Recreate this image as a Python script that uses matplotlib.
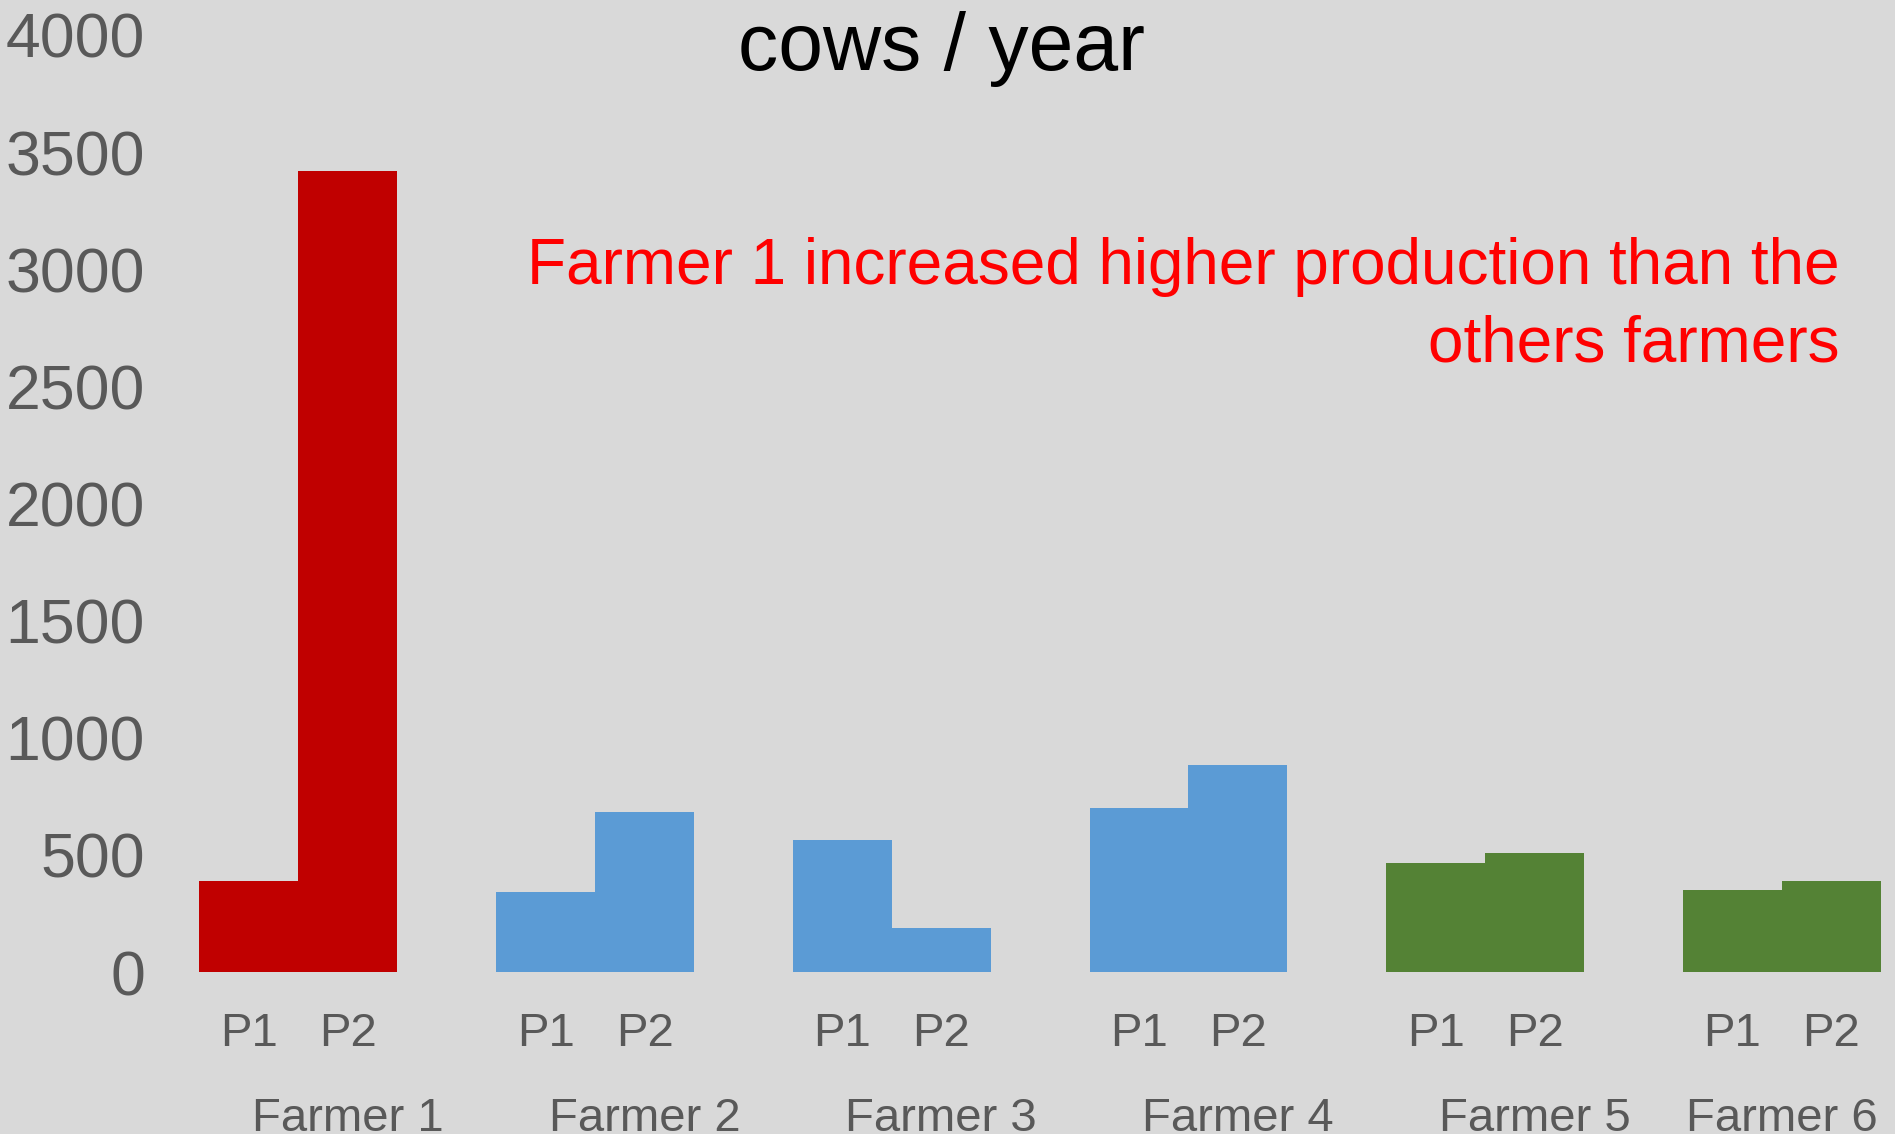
import numpy as np
import matplotlib
matplotlib.use("Agg")
import matplotlib.pyplot as plt
import matplotlib.transforms as mtransforms

plt.rcParams['font.family'] = ['Liberation Sans', 'DejaVu Sans']

# data
farmers = ["Farmer 1", "Farmer 2", "Farmer 3", "Farmer 4", "Farmer 5", "Farmer 6"]
periods = ["P1", "P2"]
p1_values = [390, 340, 565, 700, 465, 350]
p2_values = [3420, 683, 188, 884, 508, 388]
farmer_colors = ["#C00000", "#5B9BD5", "#5B9BD5", "#5B9BD5", "#548235", "#548235"]
yticks = [0, 500, 1000, 1500, 2000, 2500, 3000, 3500, 4000]
note_lines = ["Farmer 1 increased higher production than the", "others farmers"]

W, H = 1895, 1134
BG = "#D9D9D9"
GREY = "#595959"

fig = plt.figure(figsize=(W / 100, H / 100), dpi=100, facecolor=BG)
ax_left, ax_bottom, ax_top = 150, 162, 1099   # pixels from left / bottom
ax = fig.add_axes([ax_left / W, ax_bottom / H, 1 - ax_left / W, (ax_top - ax_bottom) / H])
ax.set_facecolor(BG)

group_x = np.arange(len(farmers)) * 3.0
for i, g in enumerate(group_x):
    ax.bar([g - 0.5, g + 0.5], [p1_values[i], p2_values[i]], width=1.0,
           color=farmer_colors[i], linewidth=0)

unit_px = 98.9
ax.set_xlim(-1.5, -1.5 + (W - ax_left) / unit_px)
ax.set_ylim(0, 4000)
ax.set_yticks(yticks)
ax.set_yticklabels([str(t) for t in yticks], fontsize=45, color=GREY)
ax.tick_params(axis='y', length=0, pad=3.6)
ax.set_xticks([])
for s in ax.spines.values():
    s.set_visible(False)

# category labels (two levels), x in data, y in figure px
trans = mtransforms.blended_transform_factory(ax.transData, fig.transFigure)
farmer_shift = [0.5, 0.5, 0.5, 0.5, 0.5, 0.0]
for i, g in enumerate(group_x):
    for j, p in enumerate(periods):
        ax.text(g - 0.5 + j, (H - 1046) / H, p, transform=trans, ha='center',
                va='baseline', fontsize=34, color=GREY)
    ax.text(g + farmer_shift[i], (H - 1131) / H, farmers[i], transform=trans,
            ha='center', va='baseline', fontsize=34, color=GREY)

fig.text(941 / W, (H - 70) / H, "cows / year", ha='center', va='baseline',
         fontsize=58, color='black')

for k, line in enumerate(note_lines):
    fig.text(1840 / W, (H - 284 - 77 * k) / H, line, ha='right', va='baseline',
             fontsize=46, color='#FF0000')

fig.savefig("out.png", dpi=100, facecolor=BG)
